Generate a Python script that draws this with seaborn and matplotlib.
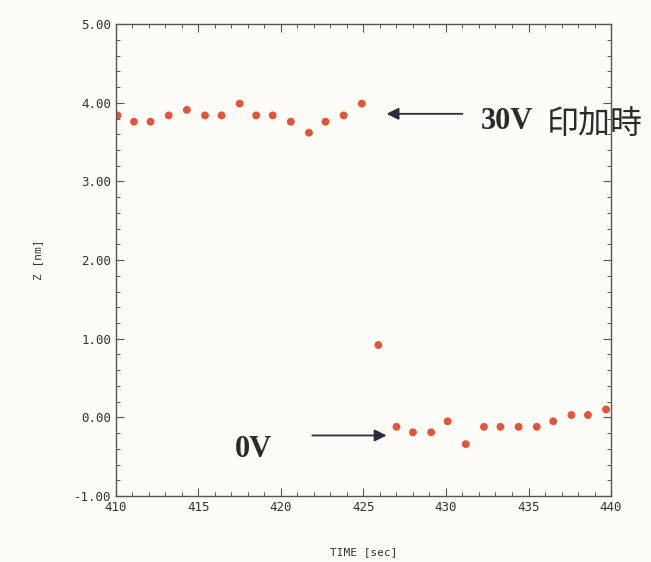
import matplotlib
matplotlib.use("Agg")
import matplotlib.pyplot as plt
from matplotlib.ticker import MultipleLocator, FormatStrFormatter
import seaborn as sns
import pandas as pd

# Tip height measured over time; the voltage is switched off just after 425 s
time_30v = [410.1, 411.1, 412.1, 413.2, 414.3, 415.4, 416.4, 417.5,
            418.5, 419.5, 420.6, 421.7, 422.7, 423.8, 424.9]
z_30v = [3.84, 3.76, 3.76, 3.84, 3.91, 3.84, 3.84, 3.99,
         3.84, 3.84, 3.76, 3.62, 3.76, 3.84, 3.99]
time_0v = [425.9, 427.0, 428.0, 429.1, 430.1, 431.2, 432.3,
           433.3, 434.4, 435.5, 436.5, 437.6, 438.6, 439.7]
z_0v = [0.92, -0.12, -0.19, -0.19, -0.05, -0.34, -0.12,
        -0.12, -0.12, -0.12, -0.05, 0.03, 0.03, 0.10]

label_on = "30V 印加時"
label_off = "0V"

df = pd.DataFrame({"time": time_30v + time_0v, "z": z_30v + z_0v})

sns.set_style("ticks")
bg = "#fdfcf6"
fig = plt.figure(figsize=(6.51, 5.62), dpi=100, facecolor=bg)
ax = fig.add_axes([0.178, 0.1174, 0.7606, 0.8396])
ax.set_facecolor(bg)

sns.scatterplot(data=df, x="time", y="z", ax=ax, color="#e2553b",
                s=32, edgecolor="none", legend=False)

ax.set_xlim(410, 440)
ax.set_ylim(-1.0, 5.0)
ax.xaxis.set_major_locator(MultipleLocator(5))
ax.xaxis.set_minor_locator(MultipleLocator(1))
ax.yaxis.set_major_locator(MultipleLocator(1))
ax.yaxis.set_minor_locator(MultipleLocator(0.2))
ax.yaxis.set_major_formatter(FormatStrFormatter("%.2f"))

mono = "DejaVu Sans Mono"
ax.tick_params(which="both", direction="in", top=True, right=True,
               colors="#555555", labelcolor="#333333")
ax.tick_params(which="major", length=6, width=0.8)
ax.tick_params(which="minor", length=3, width=0.7)
for lbl in ax.get_xticklabels() + ax.get_yticklabels():
    lbl.set_family(mono)
    lbl.set_fontsize(9)
for sp in ax.spines.values():
    sp.set_color("#555555")
    sp.set_linewidth(1.0)

ax.set_xlabel("TIME [sec]", family=mono, fontsize=8, color="#333333", labelpad=24)
ax.set_ylabel("Z [nm]", family=mono, fontsize=8, color="#333333", labelpad=22)

arrow_style = dict(arrowstyle="-|>", color="#2b2b3f", lw=1.3,
                   mutation_scale=18, shrinkA=0, shrinkB=0)
ax.annotate("", xy=(426.4, 3.86), xytext=(431.0, 3.86), arrowprops=arrow_style)
ax.annotate("", xy=(426.4, -0.23), xytext=(421.9, -0.23), arrowprops=arrow_style)

# Voltage label: bold serif figures followed by the Japanese caption
volt_part, caption_part = label_on.split(" ")
ax.text(432.1, 3.76, volt_part, family="Liberation Serif", fontsize=22,
        fontweight="bold", color="#2b2b2b", va="center", ha="left", clip_on=False)
ax.text(436.1, 3.73, caption_part, family="Noto Sans CJK JP", fontsize=23,
        fontweight="normal", color="#2b2b2b", va="center", ha="left", clip_on=False)
ax.text(417.2, -0.41, label_off, family="Liberation Serif", fontsize=22,
        fontweight="bold", color="#2b2b2b", va="center", ha="left", clip_on=False)

fig.savefig("out.png", dpi=100, facecolor=bg)
